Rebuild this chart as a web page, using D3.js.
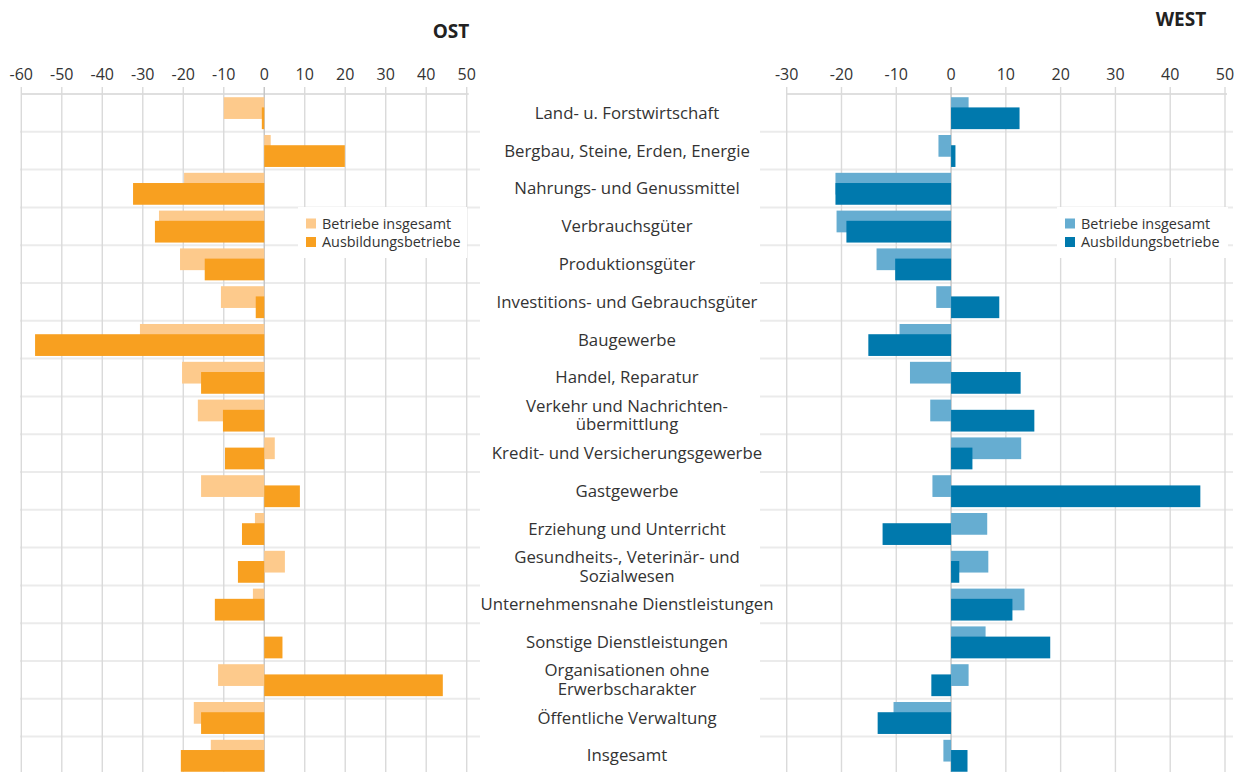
<!DOCTYPE html>
<html>
<head>
<meta charset="utf-8">
<script src="https://d3js.org/d3.v7.min.js"></script>
<style>
  body { margin: 0; background: #fff; }
  svg text { font-family: "Open Sans", "Noto Sans", sans-serif; fill: #333; }
</style>
</head>
<body>
<div id="my_dataviz"></div>
<script>
// categories (\n = line break in the label)
var categories = [
  "Land- u. Forstwirtschaft",
  "Bergbau, Steine, Erden, Energie",
  "Nahrungs- und Genussmittel",
  "Verbrauchsgüter",
  "Produktionsgüter",
  "Investitions- und Gebrauchsgüter",
  "Baugewerbe",
  "Handel, Reparatur",
  "Verkehr und Nachrichten-\nübermittlung",
  "Kredit- und Versicherungsgewerbe",
  "Gastgewerbe",
  "Erziehung und Unterricht",
  "Gesundheits-, Veterinär- und\nSozialwesen",
  "Unternehmensnahe Dienstleistungen",
  "Sonstige Dienstleistungen",
  "Organisationen ohne\nErwerbscharakter",
  "Öffentliche Verwaltung",
  "Insgesamt"
];

// OST values
var ostBetriebe    = [-10, 1.6, -19.8, -26, -20.8, -10.7, -30.7, -20.3, -16.4, 2.6, -15.6, -2.3, 5.1, -2.8, 0, -11.4, -17.4, -13.2];
var ostAusbildung  = [-0.6, 19.9, -32.4, -27, -14.7, -2.1, -56.6, -15.6, -10.2, -9.7, 8.8, -5.5, -6.5, -12.2, 4.5, 44.1, -15.6, -20.6];

// WEST values
var westBetriebe   = [3.2, -2.3, -21.1, -20.9, -13.6, -2.7, -9.4, -7.5, -3.8, 12.8, -3.4, 6.6, 6.8, 13.4, 6.3, 3.2, -10.5, -1.4];
var westAusbildung = [12.5, 0.8, -21.1, -19.1, -10.2, 8.8, -15.1, 12.7, 15.2, 3.9, 45.5, -12.5, 1.5, 11.2, 18.1, -3.6, -13.4, 3.0];

var ostTicks  = [-60, -50, -40, -30, -20, -10, 0, 10, 20, 30, 40, 50];
var westTicks = [-30, -20, -10, 0, 10, 20, 30, 40, 50];
var legendLabels = ["Betriebe insgesamt", "Ausbildungsbetriebe"];

var width = 1245, height = 772;

var svg = d3.select("#my_dataviz")
  .append("svg")
    .attr("width", width)
    .attr("height", height);

// rows
var y = d3.scaleBand()
  .domain(d3.range(categories.length))
  .range([94, 94 + 37.8 * categories.length])
  .padding(0);
var step = y.step();

// x scales for both panels
var xOst = d3.scaleLinear().domain([-60, 50]).range([21.3, 466.7]);
var xWest = d3.scaleLinear().domain([-30, 50]).range([786.7, 1225]);

function drawPanel(x, ticks, light, dark, colLight, colDark, sepX0, sepX1) {
  var g = svg.append("g");

  // horizontal row separators
  g.selectAll("line.sep")
    .data(d3.range(1, categories.length + 1))
    .join("line")
    .attr("x1", sepX0)
    .attr("x2", sepX1)
    .attr("y1", d => y(0) + d * step)
    .attr("y2", d => y(0) + d * step)
    .attr("stroke", "#ebebeb")
    .attr("stroke-width", 2);

  // top axis line
  g.append("line")
    .attr("x1", x.range()[0])
    .attr("x2", x.range()[1] + 2)
    .attr("y1", 94)
    .attr("y2", 94)
    .attr("stroke", "#d4d4d4")
    .attr("stroke-width", 1.5);

  // vertical gridlines
  g.selectAll("line.grid")
    .data(ticks)
    .join("line")
    .attr("x1", d => x(d))
    .attr("x2", d => x(d))
    .attr("y1", 87)
    .attr("y2", height)
    .attr("stroke", d => d === 0 ? "#c4c4c4" : "#dadada")
    .attr("stroke-width", 1.4);

  // tick labels
  g.selectAll("text.tick")
    .data(ticks)
    .join("text")
    .attr("x", d => x(d))
    .attr("y", 80)
    .attr("text-anchor", "middle")
    .style("font-size", "16px")
    .text(d => d);

  // light bars
  g.selectAll("rect.light")
    .data(light)
    .join("rect")
    .attr("x", d => x(Math.min(0, d)))
    .attr("width", d => Math.abs(x(d) - x(0)))
    .attr("y", (d, i) => y(i) + step * 0.085)
    .attr("height", step * 0.575)
    .attr("fill", colLight);

  // dark bars
  g.selectAll("rect.dark")
    .data(dark)
    .join("rect")
    .attr("x", d => x(Math.min(0, d)))
    .attr("width", d => Math.abs(x(d) - x(0)))
    .attr("y", (d, i) => y(i) + step * 0.355)
    .attr("height", step * 0.575)
    .attr("fill", colDark);

  return g;
}

drawPanel(xOst, ostTicks, ostBetriebe, ostAusbildung, "#fdca8c", "#f8a020", 20, 480);
drawPanel(xWest, westTicks, westBetriebe, westAusbildung, "#66add1", "#0079ad", 760, 1233);

// panel titles
svg.append("text")
  .attr("x", 451).attr("y", 38)
  .attr("text-anchor", "middle")
  .style("font-size", "19px").style("font-weight", "bold")
  .style("fill", "#222")
  .text("OST");
svg.append("text")
  .attr("x", 1181).attr("y", 26)
  .attr("text-anchor", "middle")
  .style("font-size", "19px").style("font-weight", "bold")
  .style("fill", "#222")
  .text("WEST");

// category labels
var labels = svg.selectAll("text.cat")
  .data(categories)
  .join("text")
  .attr("text-anchor", "middle")
  .style("font-size", "16.8px");

labels.each(function(d, i) {
  var lines = d.split("\n");
  var cy = y(i) + step / 2;
  var t = d3.select(this);
  lines.forEach(function(l, k) {
    t.append("tspan")
      .attr("x", 627)
      .attr("y", cy + 5.8 + (k - (lines.length - 1) / 2) * 18.5)
      .text(l);
  });
});

// legends
function drawLegend(x0, y0, w, colors) {
  var lg = svg.append("g").attr("transform", "translate(" + x0 + "," + y0 + ")");
  lg.append("rect")
    .attr("x", 0).attr("y", 0)
    .attr("width", w).attr("height", 51)
    .attr("fill", "#fff");
  lg.selectAll("rect.sw")
    .data(legendLabels)
    .join("rect")
    .attr("x", 8)
    .attr("y", (d, i) => 11.5 + i * 18.5)
    .attr("width", 10)
    .attr("height", 10)
    .attr("fill", (d, i) => colors[i]);
  lg.selectAll("text")
    .data(legendLabels)
    .join("text")
    .attr("x", 24)
    .attr("y", (d, i) => 21.5 + i * 18.5)
    .style("font-size", "14.4px")
    .text(d => d);
}

drawLegend(298, 207, 169, ["#fdca8c", "#f8a020"]);
drawLegend(1057, 207, 171, ["#66add1", "#0079ad"]);
</script>
</body>
</html>
